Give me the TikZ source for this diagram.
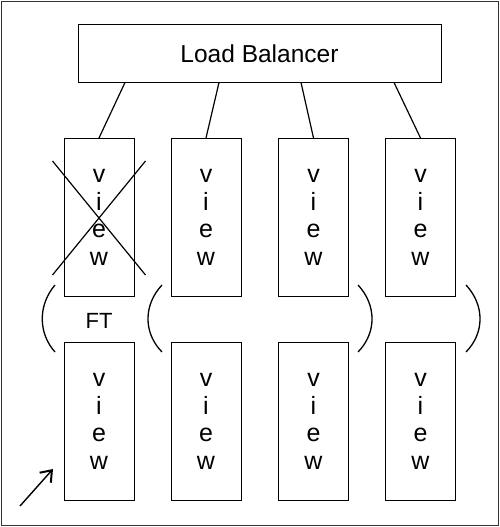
\documentclass[tikz,border=0pt]{standalone}
\usepackage{fontspec}
\setmainfont{Liberation Sans}
\usetikzlibrary{arrows.meta}
\begin{document}
\begin{tikzpicture}[x=1pt,y=-1pt,
  viewbox/.style={draw=black, line width=1pt, minimum width=70pt, minimum height=158pt, inner sep=0pt, align=center, font=\fontsize{25}{27.7}\selectfont},
  lbbox/.style={draw=black, line width=1pt, minimum width=363pt, minimum height=57pt, inner sep=0pt, font=\fontsize{24.5}{28}\selectfont},
  link/.style={line width=1.2pt},
  paren/.style={line width=1.3pt},
  frame/.style={draw=black!80, line width=1.5pt}]
\useasboundingbox (0,0) rectangle (500,527);
\draw[frame] (1.5,1.5) rectangle (498.5,525.5);
\node[lbbox] (lb) at (259.5,53.5) {Load Balancer};
\node[viewbox] (t1) at (99,217.5) {v\\i\\e\\w};
\node[viewbox] (t2) at (206,217.5) {v\\i\\e\\w};
\node[viewbox] (t3) at (313.5,217.5) {v\\i\\e\\w};
\node[viewbox] (t4) at (420.5,217.5) {v\\i\\e\\w};
\node[viewbox] (b1) at (99,421.5) {v\\i\\e\\w};
\node[viewbox] (b2) at (206,421.5) {v\\i\\e\\w};
\node[viewbox] (b3) at (313.5,421.5) {v\\i\\e\\w};
\node[viewbox] (b4) at (420.5,421.5) {v\\i\\e\\w};
\node[font=\fontsize{22}{26}\selectfont, inner sep=0pt] (ft) at (99,321) {FT};
\draw[link] ([xshift=-134.5pt]lb.south) -- (t1.north);
\draw[link] ([xshift=-40.5pt]lb.south) -- (t2.north);
\draw[link] ([xshift=41.5pt]lb.south) -- (t3.north);
\draw[link] ([xshift=134.5pt]lb.south) -- (t4.north);
% cross over failed view
\draw[link] ([xshift=-11pt,yshift=-23pt]t1.north west) -- ([xshift=11pt,yshift=22pt]t1.south east);
\draw[link] ([xshift=-11pt,yshift=22pt]t1.south west) -- ([xshift=11pt,yshift=-23pt]t1.north east);
% parentheses
\draw[paren] (55,285) .. controls (38,305) and (38,333) .. (55,352);
\draw[paren] (162,285) .. controls (143.3,305) and (143.3,333) .. (162,352);
\draw[paren] (358,285) .. controls (376.7,305) and (376.7,333) .. (358,352);
\draw[paren] (466,285) .. controls (484.7,305) and (484.7,333) .. (466,352);
% arrow
\coordinate (a0) at (20,506);
\coordinate (a1) at (53,469);
\draw[line width=1.4pt, -{Straight Barb[length=10pt,width=15pt,line width=2pt]}] (a0) -- (a1);
\end{tikzpicture}
\end{document}
